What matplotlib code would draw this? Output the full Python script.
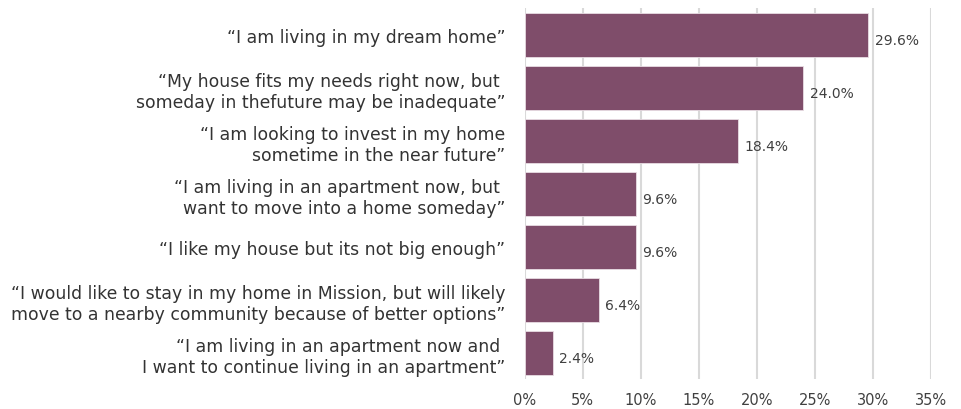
import matplotlib
matplotlib.use("Agg")
import matplotlib.pyplot as plt
from matplotlib.ticker import FuncFormatter

categories = [
    "\u201cI am living in my dream home\u201d",
    "\u201cMy house fits my needs right now, but \nsomeday in thefuture may be inadequate\u201d",
    "\u201cI am looking to invest in my home\nsometime in the near future\u201d",
    "\u201cI am living in an apartment now, but \nwant to move into a home someday\u201d",
    "\u201cI like my house but its not big enough\u201d",
    "\u201cI would like to stay in my home in Mission, but will likely\nmove to a nearby community because of better options\u201d",
    "\u201cI am living in an apartment now and \nI want to continue living in an apartment\u201d",
]
values = [29.6, 24.0, 18.4, 9.6, 9.6, 6.4, 2.4]
value_labels = ["29.6%", "24.0%", "18.4%", "9.6%", "9.6%", "6.4%", "2.4%"]
xticks = [0, 5, 10, 15, 20, 25, 30, 35]

plt.rcParams['font.family'] = ['DejaVu Sans']

fig = plt.figure(figsize=(9.61, 4.10), dpi=100)
ax = fig.add_axes([0.546, 0.072, 0.423, 0.905])

pos = list(range(len(values)))
bars = ax.barh(pos, values, height=0.83, color='#7f4d6a', edgecolor='#e8dde3', linewidth=0.6, zorder=3)

for p, v, lab in zip(pos, values, value_labels):
    ax.text(v + 0.55, p + 0.1, lab, va='center', ha='left', fontsize=10, color='#404040')

ax.set_ylim(len(values) - 0.5, -0.5)
ax.set_xlim(0, 35)
ax.set_yticks(pos)
ax.set_yticklabels(categories, fontsize=12.4, color='#333333', linespacing=1.22)
ax.set_xticks(xticks)
ax.xaxis.set_major_formatter(FuncFormatter(lambda x, _: f"{x:.0f}%"))
ax.tick_params(axis='x', labelsize=10.5, colors='#404040', length=0, pad=9)
ax.tick_params(axis='y', length=0, pad=14)

ax.grid(True, axis='x', color='#d9d9d9', linewidth=1.5, zorder=0)
for s in ax.spines.values():
    s.set_visible(False)

fig.savefig("out.png", dpi=100)
